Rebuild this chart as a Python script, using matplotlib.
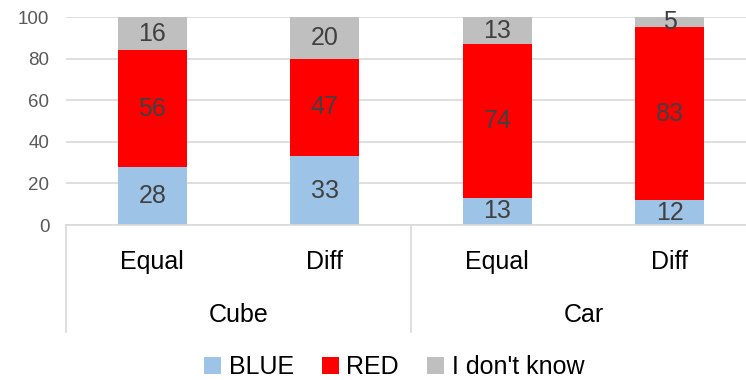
import numpy as np
import matplotlib
matplotlib.use('Agg')
import matplotlib.pyplot as plt
import matplotlib.transforms as mtransforms

plt.rcParams['font.family'] = ['Liberation Sans', 'DejaVu Sans']

conditions = ['Equal', 'Diff', 'Equal', 'Diff']
groups = ['Cube', 'Car']
blue = [28, 33, 13, 12]
red = [56, 47, 74, 83]
dont_know = [16, 20, 13, 5]
series_names = ['BLUE', 'RED', "I don't know"]
colors = ['#9DC3E6', '#FF0000', '#BFBFBF']

W, H = 746, 380
fig = plt.figure(figsize=(W / 100, H / 100), dpi=100)
# axes box in pixels: x 66..756, y(0)=225, y(100)=17
ax = fig.add_axes([66 / W, (H - 225) / H, (756 - 66) / W, 208 / H])

x = np.arange(len(conditions))
bottom = np.zeros(len(conditions))
handles = []
for vals, name, c in zip([blue, red, dont_know], series_names, colors):
    vals = np.array(vals)
    b = ax.bar(x, vals, 0.4, bottom=bottom, color=c, label=name, zorder=2)
    handles.append(b)
    for xi, v, b0 in zip(x, vals, bottom):
        ax.text(xi, b0 + v / 2, str(v), ha='center', va='center',
                fontsize=18, color='#404040', zorder=3)
    bottom += vals

ax.set_xlim(-0.5, 3.5)
ax.set_ylim(0, 100)
ax.set_yticks(range(0, 101, 20))
ax.tick_params(axis='y', length=0, labelsize=13.5, labelcolor='#595959', pad=12)
ax.yaxis.grid(True, color='#D9D9D9', linewidth=1.2, zorder=0)
for s in ['left', 'right', 'top']:
    ax.spines[s].set_visible(False)
ax.spines['bottom'].set_color('#D9D9D9')
ax.spines['bottom'].set_linewidth(1.2)
ax.set_xticks([])

trans = mtransforms.blended_transform_factory(ax.transData, ax.transAxes)
for xi, lab in zip(x, conditions):
    ax.text(xi, -0.178, lab, transform=trans, ha='center', va='center',
            fontsize=18, color='black')
for gi, g in enumerate(groups):
    ax.text(2 * gi + 0.5, -0.433, g, transform=trans, ha='center', va='center',
            fontsize=18, color='black')
for xs in [-0.5, 1.5, 3.5]:
    ax.plot([xs, xs], [0, -0.514], transform=trans, color='#D9D9D9',
            linewidth=1.2, clip_on=False)

fig.legend(handles=handles, labels=series_names, loc='center',
           bbox_to_anchor=(394 / W, 13 / H), ncol=3, frameon=False,
           fontsize=18, handlelength=0.7, handleheight=0.7,
           handletextpad=0.3, columnspacing=1.1)

fig.savefig('out.png', dpi=100)
